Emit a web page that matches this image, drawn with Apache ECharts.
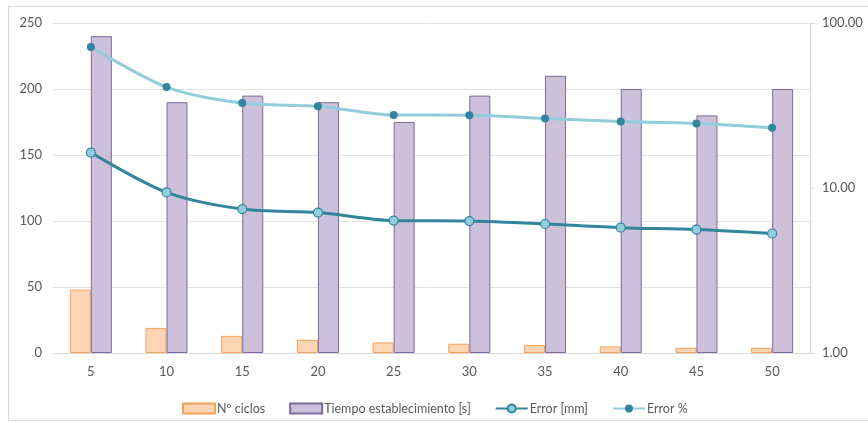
<!DOCTYPE html>
<html>
<head>
<meta charset="utf-8">
<script src="https://cdn.jsdelivr.net/npm/echarts@6/dist/echarts.min.js"></script>
<style>
  html, body { margin: 0; padding: 0; background: #ffffff; }
  #chart { width: 868px; height: 423px; }
</style>
</head>
<body>
<div id="chart"></div>
<script>
// Frecuencias / categorías del eje X
const categories = ['5', '10', '15', '20', '25', '30', '35', '40', '45', '50'];
// Número de ciclos hasta estabilizar
const nCiclos = [48, 19, 13, 10, 8, 7, 6, 5, 4, 4];
// Tiempo de establecimiento en segundos
const tiempoEstablecimiento = [240, 190, 195, 190, 175, 195, 210, 200, 180, 200];
// Error absoluto en mm (eje logarítmico derecho)
const errorMm = [16.4, 9.4, 7.45, 7.1, 6.35, 6.3, 6.05, 5.75, 5.6, 5.3];
// Error relativo en % (eje logarítmico derecho)
const errorPct = [71.6, 40.9, 32.7, 31.3, 27.7, 27.6, 26.4, 25.3, 24.6, 23.2];
// Marcas del eje izquierdo y derecho
const leftTicks = { min: 0, max: 250, interval: 50 };
const rightTicks = { min: 1, max: 100 };

const textColor = '#595959';
const font = 'Lato, "Open Sans", sans-serif';

const chart = echarts.init(document.getElementById('chart'), null, { renderer: 'canvas' });

chart.setOption({
  animation: false,
  backgroundColor: '#ffffff',
  textStyle: { fontFamily: font, color: textColor },
  graphic: [{
    type: 'rect',
    shape: { x: 8.5, y: 6.5, width: 900, height: 414 },
    style: { fill: 'none', stroke: '#d9d9d9', lineWidth: 1 },
    silent: true,
    z: -10
  }],
  grid: { left: 53, right: 58, top: 23, bottom: 70, containLabel: false },
  legend: {
    left: 177,
    top: 397,
    itemGap: 24,
    itemWidth: 32,
    itemHeight: 10,
    textStyle: { fontFamily: font, fontSize: 12.5, color: textColor, padding: [0, 0, 0, -3] },
    data: [
      { name: 'Nº ciclos', icon: 'rect' },
      { name: 'Tiempo establecimiento [s]', icon: 'rect' },
      { name: 'Error [mm]' },
      { name: 'Error %' }
    ]
  },
  xAxis: {
    type: 'category',
    data: categories,
    axisLine: { lineStyle: { color: '#d9d9d9', width: 1 } },
    axisTick: { show: false },
    axisLabel: { color: textColor, fontSize: 13, fontFamily: font, margin: 12 }
  },
  yAxis: [
    {
      type: 'value',
      min: leftTicks.min,
      max: leftTicks.max,
      interval: leftTicks.interval,
      axisLine: { show: false },
      axisTick: { show: false },
      axisLabel: { color: textColor, fontSize: 13, fontFamily: font, margin: 11 },
      splitLine: { lineStyle: { color: '#e3e3e3', width: 1 } }
    },
    {
      type: 'log',
      logBase: 10,
      min: rightTicks.min,
      max: rightTicks.max,
      position: 'right',
      axisLine: { show: true, lineStyle: { color: '#d9d9d9', width: 1 } },
      axisTick: { show: true, length: 5, lineStyle: { color: '#d9d9d9' } },
      axisLabel: {
        color: textColor, fontSize: 13, fontFamily: font, margin: 12,
        formatter: v => Number(v).toFixed(2)
      },
      splitLine: { show: false }
    }
  ],
  series: [
    {
      name: 'Nº ciclos',
      type: 'bar',
      data: nCiclos,
      barWidth: 21,
      barGap: '0%',
      itemStyle: { color: '#fcd5b4', borderColor: '#f4a15c', borderWidth: 1 }
    },
    {
      name: 'Tiempo establecimiento [s]',
      type: 'bar',
      data: tiempoEstablecimiento,
      barWidth: 21,
      barGap: '0%',
      itemStyle: { color: '#ccc0da', borderColor: '#7f6a9c', borderWidth: 1 }
    },
    {
      name: 'Error [mm]',
      type: 'line',
      yAxisIndex: 1,
      data: errorMm,
      smooth: 0.3,
      symbol: 'circle',
      symbolSize: 9,
      lineStyle: { color: '#31859c', width: 3 },
      itemStyle: { color: '#93cddd', borderColor: '#31859c', borderWidth: 1.2 },
      z: 5
    },
    {
      name: 'Error %',
      type: 'line',
      yAxisIndex: 1,
      data: errorPct,
      smooth: 0.3,
      symbol: 'circle',
      symbolSize: 8,
      lineStyle: { color: '#93cddd', width: 3 },
      itemStyle: { color: '#31859c', borderColor: '#31859c', borderWidth: 0 },
      z: 5
    }
  ]
});
</script>
</body>
</html>
